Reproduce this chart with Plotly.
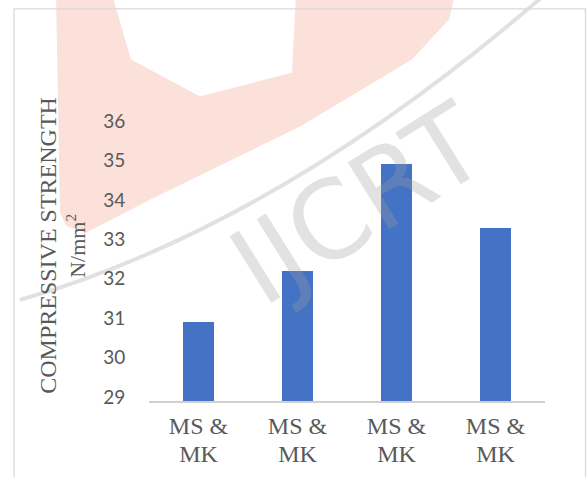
import plotly.graph_objects as go

# ---- data ----
categories = ["MS & MK", "MS & MK", "MS & MK", "MS & MK"]
strength = [31.0, 32.3, 35.0, 33.4]
y_ticks = [29, 30, 31, 32, 33, 34, 35, 36]

W, H = 587, 477
L, R, T, B = 149, 42, 125.4, 76
PW, PH = W - L - R, H - T - B
SERIF = "Times New Roman, Liberation Serif, DejaVu Serif, serif"

def px(x):
    return (x - L) / PW

def py(y):
    return (H - B - y) / PH

def path(points):
    return "M " + " L ".join(f"{px(x):.4f},{py(y):.4f}" for x, y in points) + " Z"

x_pos = list(range(len(categories)))
tick_text = ['<span style="font-size:24px">' + c.replace(" & ", " &<br>") + "</span>"
             for c in categories]

fig = go.Figure()
fig.add_trace(go.Bar(
    x=x_pos, y=strength, width=0.31,
    marker=dict(color="#4472C4", line=dict(width=0)),
    hoverinfo="y",
))

shapes = []
# watermark (pink logo block)
pink = [(56, -5), (455, -5), (449, 20), (412, 60), (300, 127), (150, 200),
        (86, 233), (66, 226), (60, 213)]
shapes.append(dict(type="path", xref="paper", yref="paper", path=path(pink),
                   fillcolor="#fce0da", line=dict(width=0), layer="below"))
white = [(112, -5), (296, -5), (292, 73), (200, 97), (131, 60)]
shapes.append(dict(type="path", xref="paper", yref="paper", path=path(white),
                   fillcolor="white", line=dict(width=0), layer="below"))
# grey arc of logo
arc = (f"M {px(20):.4f},{py(300):.4f} Q {px(275):.4f},{py(228):.4f} {px(545):.4f},{py(-5):.4f}")
shapes.append(dict(type="path", xref="paper", yref="paper", path=arc,
                   line=dict(color="rgba(170,170,170,0.35)", width=4), layer="below"))
# chart border
shapes.append(dict(type="rect", xref="paper", yref="paper",
                   x0=px(14), x1=px(585.5), y0=py(482), y1=py(9.5),
                   line=dict(color="#d9d9d9", width=1.3), fillcolor="rgba(0,0,0,0)",
                   layer="below"))

annotations = [
    dict(text="COMPRESSIVE STRENGTH", xref="paper", yref="paper",
         x=px(48), y=py(246), xanchor="center", yanchor="middle", textangle=-90,
         showarrow=False, font=dict(family=SERIF, size=24, color="#595959")),
    dict(text="N/mm<sup>2</sup>", xref="paper", yref="paper",
         x=px(76), y=py(246), xanchor="center", yanchor="middle", textangle=-90,
         showarrow=False, font=dict(family=SERIF, size=22, color="#595959")),
    dict(text="IJCRT", xref="paper", yref="paper",
         x=px(358), y=py(205), xanchor="center", yanchor="middle", textangle=-32,
         showarrow=False,
         font=dict(family="DejaVu Sans", size=108, color="rgba(160,160,160,0.3)")),
]

fig.update_layout(
    width=W, height=H,
    margin=dict(l=L, r=R, t=T, b=B, pad=0, autoexpand=False),
    paper_bgcolor="white", plot_bgcolor="rgba(0,0,0,0)",
    showlegend=False, bargap=0,
    shapes=shapes, annotations=annotations,
    xaxis=dict(
        range=[-0.5, len(categories) - 0.5], automargin=False,
        tickvals=x_pos, ticktext=tick_text,
        showline=True, linecolor="#d0d0d0", linewidth=2,
        showgrid=False, zeroline=False, ticks="outside", ticklen=6,
        tickcolor="rgba(0,0,0,0)",
        tickfont=dict(family=SERIF, size=21, color="#595959"),
    ),
    yaxis=dict(
        range=[29, 36], tickvals=y_ticks, automargin=False,
        showline=False, showgrid=False, zeroline=False,
        ticks="outside", ticklen=19, tickcolor="rgba(0,0,0,0)",
        ticklabelshift=-4,
        tickfont=dict(family="Lato", size=19, color="#595959"),
    ),
)

fig.write_html("out.html")
